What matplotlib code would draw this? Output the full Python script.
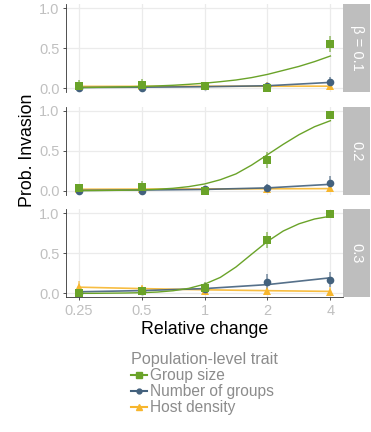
import numpy as np
import matplotlib
matplotlib.use('Agg')
import matplotlib.pyplot as plt
from matplotlib.lines import Line2D

plt.rcParams['font.family'] = ['Liberation Sans', 'DejaVu Sans']

# relative change of each trait
x_pts = [0.25, 0.5, 1, 2, 4]
betas = ['β = 0.1', '0.2', '0.3']

# observed proportions (points) and error bar ends, per panel
group_obs = [[0.03, 0.04, 0.02, 0.00, 0.55],
             [0.03, 0.05, 0.00, 0.39, 0.95],
             [0.01, 0.03, 0.07, 0.67, 0.99]]
group_lo = [[0.00, 0.00, 0.00, 0.00, 0.45],
            [0.00, 0.00, 0.00, 0.29, 0.90],
            [0.00, 0.00, 0.01, 0.57, 0.97]]
group_hi = [[0.10, 0.11, 0.05, 0.03, 0.65],
            [0.09, 0.12, 0.03, 0.49, 0.99],
            [0.03, 0.07, 0.14, 0.77, 1.00]]

ngroups_obs = [[0.00, 0.00, 0.02, 0.02, 0.07],
               [0.00, 0.00, 0.02, 0.03, 0.10],
               [0.01, 0.03, 0.06, 0.14, 0.17]]
ngroups_lo = [[0.00, 0.00, 0.00, 0.00, 0.02],
              [0.00, 0.00, 0.00, 0.00, 0.03],
              [0.00, 0.00, 0.01, 0.05, 0.08]]
ngroups_hi = [[0.02, 0.02, 0.05, 0.06, 0.14],
              [0.02, 0.02, 0.05, 0.08, 0.18],
              [0.03, 0.06, 0.13, 0.24, 0.27]]

host_obs = [[0.02, 0.02, 0.02, 0.02, 0.02],
            [0.02, 0.02, 0.02, 0.02, 0.03],
            [0.08, 0.05, 0.03, 0.03, 0.02]]
host_lo = [[0.00, 0.00, 0.00, 0.00, 0.00],
           [0.00, 0.00, 0.00, 0.00, 0.00],
           [0.02, 0.01, 0.00, 0.00, 0.00]]
host_hi = [[0.05, 0.05, 0.06, 0.07, 0.05],
           [0.05, 0.05, 0.05, 0.06, 0.06],
           [0.16, 0.10, 0.07, 0.07, 0.08]]

# fitted curves
curve_x = [0.25, 0.297, 0.354, 0.42, 0.5, 0.595, 0.707, 0.841, 1,
           1.19, 1.414, 1.68, 2, 2.38, 2.83, 3.36, 4]
group_fit = [[0.006, 0.008, 0.011, 0.015, 0.019, 0.026, 0.034, 0.046, 0.060,
              0.079, 0.10, 0.13, 0.17, 0.22, 0.27, 0.33, 0.40],
             [0.001, 0.002, 0.004, 0.006, 0.010, 0.018, 0.030, 0.051, 0.084,
              0.137, 0.21, 0.32, 0.45, 0.58, 0.70, 0.80, 0.875],
             [0.001, 0.001, 0.003, 0.005, 0.009, 0.017, 0.033, 0.063, 0.115,
              0.20, 0.33, 0.49, 0.65, 0.78, 0.87, 0.93, 0.965]]
ngroups_fit = [[0.006, 0.010, 0.016, 0.028, 0.070],
               [0.004, 0.008, 0.016, 0.035, 0.080],
               [0.020, 0.035, 0.060, 0.110, 0.195]]
host_fit = [[0.020, 0.021, 0.022, 0.022, 0.023],
            [0.018, 0.020, 0.022, 0.024, 0.026],
            [0.078, 0.060, 0.045, 0.034, 0.025]]

green = '#6aa329'
blue = '#43617d'
yellow = '#f7b62d'
tick_grey = '#c0c0c0'

W, H = 371, 432
fig = plt.figure(figsize=(W / 100, H / 100), dpi=100)

def px_axes(left, top, width, height):
    return fig.add_axes([left / W, 1 - (top + height) / H, width / W, height / H])

tops = [4, 106.7, 209.4]
for i in range(3):
    ax = px_axes(66, tops[i], 277, 88)
    ax.set_xscale('log', base=2)
    ax.set_xlim(0.25 / 2 ** 0.2, 4 * 2 ** 0.2)
    ax.set_ylim(-0.05, 1.05)
    ax.set_xticks(x_pts)
    ax.set_yticks([0, 0.5, 1])
    ax.set_yticklabels(['0.0', '0.5', '1.0'])
    ax.minorticks_off()
    ax.grid(True, color='#ebebeb', lw=0.9)
    ax.set_axisbelow(True)
    for s in ['top', 'right']:
        ax.spines[s].set_visible(False)
    ax.spines['left'].set_color('#333333')
    ax.spines['left'].set_linewidth(0.6)
    ax.tick_params(axis='y', colors='#333333', labelcolor=tick_grey,
                   labelsize=10.5, length=2.5, width=0.6, pad=2)
    if i < 2:
        ax.spines['bottom'].set_visible(False)
        ax.tick_params(axis='x', length=0, labelbottom=False)
    else:
        ax.spines['bottom'].set_color('#333333')
        ax.spines['bottom'].set_linewidth(0.6)
        ax.set_xticklabels(['0.25', '0.5', '1', '2', '4'])
        ax.tick_params(axis='x', colors='#333333', labelcolor=tick_grey,
                       labelsize=10.5, length=2.5, width=0.6, pad=2)

    # fitted lines
    ax.plot(x_pts, host_fit[i], color=yellow, lw=1.2, alpha=0.9, zorder=2)
    ax.plot(x_pts, ngroups_fit[i], color=blue, lw=1.2, alpha=0.9, zorder=2)
    ax.plot(curve_x, group_fit[i], color=green, lw=1.0, zorder=2)

    # error bars
    ax.vlines(x_pts, host_lo[i], host_hi[i], color=yellow, lw=1.3, alpha=0.6, zorder=3)
    ax.vlines(x_pts, ngroups_lo[i], ngroups_hi[i], color=blue, lw=1.3, alpha=0.6, zorder=3)
    ax.vlines(x_pts, group_lo[i], group_hi[i], color=green, lw=1.3, alpha=0.6, zorder=3)

    # points
    ax.plot(x_pts, host_obs[i], '^', color=yellow, ms=6, mew=0, zorder=4)
    ax.plot(x_pts, ngroups_obs[i], 'o', color=blue, ms=5.5, mew=0, zorder=4)
    ax.plot(x_pts, group_obs[i], 's', color=green, ms=6, mew=0, zorder=5)

    # facet strip
    sax = px_axes(343, tops[i], 27, 88)
    sax.set_facecolor('#bebebe')
    sax.set_xticks([])
    sax.set_yticks([])
    for s in sax.spines.values():
        s.set_visible(False)
    sax.text(0.5, 0.5, betas[i], rotation=-90, ha='center', va='center',
             color='white', fontsize=10.5, transform=sax.transAxes)

fig.text(28 / W, 1 - 150 / H, 'Prob. Invasion', rotation=90, ha='center',
         va='center', fontsize=12.8, color='black')
fig.text(204.5 / W, 1 - 330 / H, 'Relative change', ha='center', va='center',
         fontsize=12.8, color='black')

handles = [Line2D([], [], color=green, marker='s', ms=4, lw=1.5),
           Line2D([], [], color=blue, marker='o', ms=3.5, lw=1.5),
           Line2D([], [], color=yellow, marker='^', ms=4, lw=1.5)]
leg = fig.legend(handles, ['Group size', 'Number of groups', 'Host density'],
                 title='Population-level trait', loc='upper left',
                 bbox_to_anchor=(131 / W, 1 - 352 / H), frameon=False,
                 fontsize=11.2, title_fontsize=11.6, handlelength=1.0,
                 handletextpad=0.25, labelspacing=0.05, borderpad=0,
                 borderaxespad=0)
leg._legend_box.align = 'left'
leg._legend_box.sep = 1
leg.get_title().set_color('#8c8c8c')
for t in leg.get_texts():
    t.set_color('#8c8c8c')

fig.savefig('out.png', dpi=100)
